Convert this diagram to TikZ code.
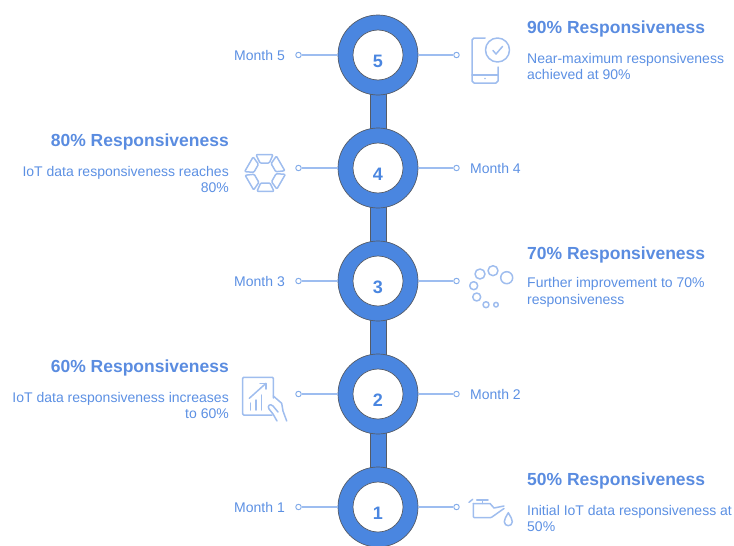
\documentclass[tikz,border=0pt]{standalone}
\usepackage{fontspec}
\setmainfont{Liberation Sans}
\usetikzlibrary{calc}
\definecolor{ringblue}{HTML}{4A86E0}
\definecolor{txtblue}{HTML}{5C90E3}
\definecolor{headblue}{HTML}{5A8CE0}
\definecolor{linkblue}{HTML}{9DBDF0}
\definecolor{iconblue}{HTML}{9FBDEE}
\definecolor{rimgray}{HTML}{555B66}
\tikzset{
ringout/.style={circle,draw=rimgray,fill=ringblue,line width=0.7pt,minimum size=80pt,inner sep=0pt},
ringin/.style={circle,draw=rimgray,fill=white,line width=0.7pt,minimum size=50pt,inner sep=0pt},
barbox/.style={rectangle,draw=rimgray,fill=ringblue,line width=0.7pt,minimum width=16pt,minimum height=60pt,inner sep=0pt},
digit/.style={text=ringblue,font=\bfseries\fontsize{18}{18}\selectfont,inner sep=0pt},
link/.style={linkblue,line width=1.4pt},
stub/.style={circle,draw=ringblue!70!white,fill=white,line width=0.9pt,minimum size=5.5pt,inner sep=0pt},
head/.style={text=headblue,font=\bfseries\fontsize{17.5}{20}\selectfont,inner sep=0pt},
body/.style={text=txtblue,font=\fontsize{14}{16.5}\selectfont,inner sep=0pt},
month/.style={text=txtblue,font=\fontsize{14}{16}\selectfont,inner sep=0pt},
icon/.style={iconblue,line width=1.5pt,line cap=round,line join=round}
}
\begin{document}
\begin{tikzpicture}[x=1pt,y=-1pt]
\useasboundingbox (0,0) rectangle (734,546);
% bars between the rings
\foreach \y in {111.5,224.5,337.5,450.5}
\node[barbox] (bar\y) at (378,\y) {};
% rings, digits, stubs
\foreach \i/\y in {5/55,4/168,3/281,2/394,1/507}{
\node[stub] (sl\i) at (298.5,\y) {};
\node[stub] (sr\i) at (456.5,\y) {};
\node[ringout] (r\i) at (378,\y) {};
\node[ringin] (c\i) at (378,\y) {};
\node[digit] (n\i) at ($(c\i)+(0,6)$) {\i};
\draw[link] (r\i) -- (sl\i);
\draw[link] (r\i) -- (sr\i);
}
% month labels
\node[month,anchor=east] (m5) at (285,55) {Month 5};
\node[month,anchor=west] (m4) at (470,168) {Month 4};
\node[month,anchor=east] (m3) at (285,281) {Month 3};
\node[month,anchor=west] (m2) at (470,394) {Month 2};
\node[month,anchor=east] (m1) at (285,507) {Month 1};
% right hand texts
\node[head,anchor=west] (h90) at (527,28.5) {90\% Responsiveness};
\node[body,anchor=west,align=left] (t90) at (527,66.5) {Near-maximum responsiveness\\achieved at 90\%};
\node[head,anchor=west] (h70) at (527,254.5) {70\% Responsiveness};
\node[body,anchor=west,align=left] (t70) at (527,292.5) {Further improvement to 70\%\\responsiveness};
\node[head,anchor=west] (h50) at (527,480.5) {50\% Responsiveness};
\node[body,anchor=west,align=left] (t50) at (527,518.5) {Initial IoT data responsiveness at\\50\%};
% left hand texts
\node[head,anchor=east] (h80) at (229,141.5) {80\% Responsiveness};
\node[body,anchor=east,align=right] (t80) at (229,179.5) {IoT data responsiveness reaches\\80\%};
\node[head,anchor=east] (h60) at (229,367.5) {60\% Responsiveness};
\node[body,anchor=east,align=right] (t60) at (229,405.5) {IoT data responsiveness increases\\to 60\%};
% phone icon
\draw[icon] (485,38) -- (474,38) -- ++(-2,2) -- (472,81) -- ++(2,2) -- (496,83) -- ++(2,-2) -- (498,67);
\draw[icon] (472,75) -- (498,75);
\fill[iconblue] (485,78.5) circle (0.9);
\draw[icon] (497.5,50) circle (12);
\draw[icon] (493,50.5) -- (496,54) -- (502.5,46.5);
% hexagon icon
\foreach \a in {0,60,...,300}
\draw[icon,rotate around={\a:(265,173)},rounded corners=1pt] (256,154.7) -- (273,154.7) -- (269.3,163) -- (260,163) -- cycle;
% bubbles icon
\foreach \x/\y/\r in {480/274/5,493/270.7/5,506.7/277.7/6,473.7/285.7/4,476.7/297/4,486/304.7/3,496/304.7/2.3}
\draw[icon] (\x,\y) circle (\r);
% tablet icon
\draw[icon,rounded corners=1pt] (273.3,398) -- (273.3,377.3) -- (242.7,377.3) -- (242.7,415) -- (272,415);
\draw[icon] (249.3,398.3) -- (266,383.3);
\draw[icon] (260,383.3) -- (266,383.3) -- (266,389);
\draw[icon] (250.7,410) -- (250.7,403);
\draw[icon] (256,410) -- (256,400);
\draw[icon] (261.3,410) -- (261.3,395);
\draw[icon] (273.3,396) -- (281.7,403.3) -- (283,411) -- (286.7,421);
\draw[icon] (277,421) -- (273,414) -- (269,409) .. controls (267,406) and (270,403) .. (273,406) -- (278,412);
% oil can icon
\draw[icon,rounded corners=1pt] (473.3,503.5) -- (473.3,517.7) -- (491,517.7) -- (504,508.5);
\draw[icon] (473.3,503.5) -- (490,503.5) -- (494,508) -- (504,506);
\draw[icon] (476.7,500) -- (488,500);
\draw[icon] (482.5,500) -- (482.5,503.5);
\draw[icon] (469,502.3) -- (472.7,499.3);
\draw[icon] (508.3,512.7) .. controls (506,517) and (504.3,519) .. (504.3,521.7) .. controls (504.3,527) and (512.3,527) .. (512.3,521.7) .. controls (512.3,519) and (510.6,517) .. (508.3,512.7) -- cycle;
\end{tikzpicture}
\end{document}
